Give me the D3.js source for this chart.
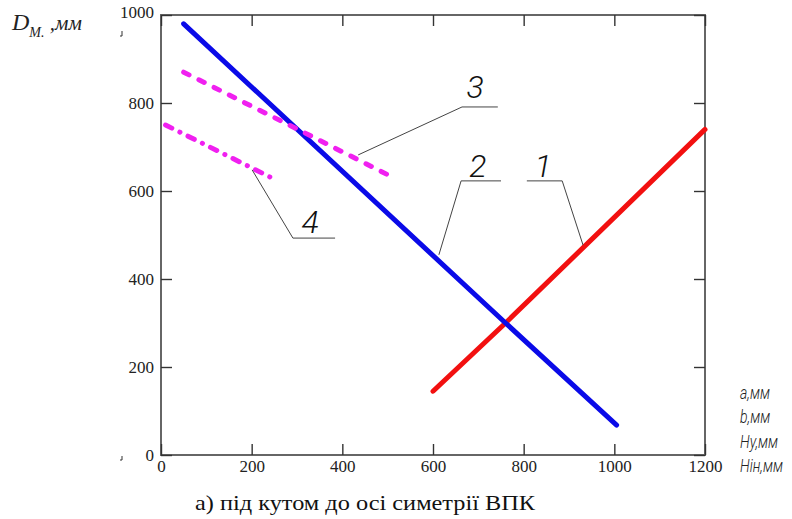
<!DOCTYPE html>
<html lang="uk">
<head>
    <meta charset="utf-8">
    <title>D_M vs a, b, Hy, Hin</title>
    <script src="https://d3js.org/d3.v7.min.js"></script>
    <style>
        html, body {
            margin: 0;
            padding: 0;
            background: #fff;
        }
        .axis line {
            stroke: #333;
            stroke-width: 1.4px;
        }
        .axis path {
            display: none;
        }
        .leader {
            fill: none;
            stroke: #444;
            stroke-width: 1px;
        }
    </style>
</head>
<body>
<script>

    var w = 792;
    var h = 519;
    var serifFont = "'Liberation Serif', 'Times New Roman', serif";
    var draftFont = "'Roboto', 'Liberation Sans', sans-serif";

    // axis ticks
    var xTicks = [0, 200, 400, 600, 800, 1000, 1200];
    var yTicks = [0, 200, 400, 600, 800, 1000];

    // curve 1 (red)
    var line1X = [600, 760, 1200];
    var line1Y = [145, 300, 740];
    // curve 2 (blue)
    var line2X = [50, 760, 1005];
    var line2Y = [980, 300, 68];
    // curve 3 (magenta dashed)
    var line3X = [50, 300, 500];
    var line3Y = [870, 741, 637];
    // curve 4 (magenta dash-dot)
    var line4X = [10, 240];
    var line4Y = [750, 632];

    // numbered callouts: leader polyline (data units) + label position
    var calloutLabels = ["1", "2", "3", "4"];
    var calloutPaths = [
        [[807, 623], [885, 623], [931, 477]],
        [[750, 623], [662, 623], [613, 455]],
        [[743, 791], [664, 791], [435, 682]],
        [[201, 648], [291, 493], [384, 493]]
    ];
    var calloutText = [[843, 632], [699, 632], [693, 811], [329, 505]];

    var unitLabels = ["a,мм", "b,мм", "Hу,мм", "Hін,мм"];

    var x = d3.scaleLinear().domain([0, 1200]).range([161, 705]);
    var y = d3.scaleLinear().domain([0, 1000]).range([455, 15]);

    var svg = d3.select("body").append("svg")
        .attr("width", w)
        .attr("height", h);

    // frame
    svg.append("rect")
        .attr("x", x(0))
        .attr("y", y(1000))
        .attr("width", x(1200) - x(0))
        .attr("height", y(0) - y(1000))
        .attr("fill", "none")
        .attr("stroke", "#666")
        .attr("stroke-width", 2);

    svg.append("g")
        .attr("class", "axis")
        .attr("transform", "translate(0," + y(0) + ")")
        .call(d3.axisBottom(x).tickValues(xTicks).tickSize(-11).tickPadding(5).tickFormat(d3.format("d")));

    svg.append("g")
        .attr("class", "axis")
        .attr("transform", "translate(0," + y(1000) + ")")
        .call(d3.axisTop(x).tickValues(xTicks).tickSize(-11).tickFormat(""));

    var yAxisG = svg.append("g")
        .attr("class", "axis")
        .attr("transform", "translate(" + x(0) + ",0)")
        .call(d3.axisLeft(y).tickValues(yTicks).tickSize(-11).tickPadding(7).tickFormat(d3.format("d")));

    svg.append("g")
        .attr("class", "axis")
        .attr("transform", "translate(" + x(1200) + ",0)")
        .call(d3.axisRight(y).tickValues(yTicks).tickSize(-11).tickFormat(""));

    svg.selectAll(".tick text")
        .style("font-family", serifFont)
        .style("font-size", "17px")
        .style("fill", "#222");

    yAxisG.selectAll(".tick text").filter(function(d) { return d === 1000; })
        .attr("dy", "0.15em");

    var line = d3.line()
        .x(function(d) { return x(d[0]); })
        .y(function(d) { return y(d[1]); });

    function pts(xs, ys) {
        return xs.map(function(v, i) { return [v, ys[i]]; });
    }

    svg.append("path")
        .datum(pts(line1X, line1Y))
        .attr("d", line)
        .attr("fill", "none")
        .attr("stroke", "#f21010")
        .attr("stroke-width", 5)
        .attr("stroke-linecap", "round");

    svg.append("path")
        .datum(pts(line2X, line2Y))
        .attr("d", line)
        .attr("fill", "none")
        .attr("stroke", "#0a0ae8")
        .attr("stroke-width", 5)
        .attr("stroke-linecap", "round");

    svg.append("path")
        .datum(pts(line3X, line3Y))
        .attr("d", line)
        .attr("fill", "none")
        .attr("stroke", "#f020f0")
        .attr("stroke-width", 5)
        .attr("stroke-linecap", "round")
        .attr("stroke-dasharray", "6,11");

    svg.append("path")
        .datum(pts(line4X, line4Y))
        .attr("d", line)
        .attr("fill", "none")
        .attr("stroke", "#f020f0")
        .attr("stroke-width", 5)
        .attr("stroke-linecap", "round")
        .attr("stroke-dasharray", "7,9,0.1,9");

    // callouts
    calloutPaths.forEach(function(p, i) {
        svg.append("path")
            .datum(p)
            .attr("class", "leader")
            .attr("d", line);
        svg.append("text")
            .attr("x", x(calloutText[i][0]))
            .attr("y", y(calloutText[i][1]))
            .attr("text-anchor", "middle")
            .style("font-family", draftFont)
            .style("font-weight", 300)
            .style("font-style", "italic")
            .style("font-size", "32px")
            .style("fill", "#111")
            .text(calloutLabels[i]);
    });

    // y axis title
    var yt = svg.append("text")
        .attr("x", 12)
        .attr("y", 30)
        .style("font-family", serifFont)
        .style("font-style", "italic")
        .style("fill", "#222");
    yt.append("tspan").style("font-size", "24px").text("D");
    yt.append("tspan").style("font-size", "14px").attr("dy", 7).text("M.");
    yt.append("tspan").style("font-size", "21px").attr("dy", -7).text(" ,мм");

    // x axis unit labels (narrow, like a drafting font)
    svg.append("g")
        .attr("transform", "translate(740,0) scale(0.74,1)")
        .selectAll("text")
        .data(unitLabels)
        .enter().append("text")
        .attr("x", 0)
        .attr("y", function(d, i) { return 399 + i * 24.5; })
        .style("font-family", draftFont)
        .style("font-weight", 300)
        .style("font-style", "italic")
        .style("font-size", "19px")
        .style("fill", "#222")
        .text(function(d) { return d; });

    // small stray marks near the axis labels
    svg.append("path")
        .attr("d", "M120,36 L122,36 L122,31 M120,460 L122,460 L122,456")
        .attr("fill", "none")
        .attr("stroke", "#333")
        .attr("stroke-width", 1);

    // caption
    svg.append("text")
        .attr("x", 195)
        .attr("y", 510)
        .attr("textLength", 340)
        .attr("lengthAdjust", "spacingAndGlyphs")
        .style("font-family", serifFont)
        .style("font-size", "22px")
        .style("fill", "#111")
        .text("а) під кутом до осі симетрії ВПК");

</script>
</body>
</html>
